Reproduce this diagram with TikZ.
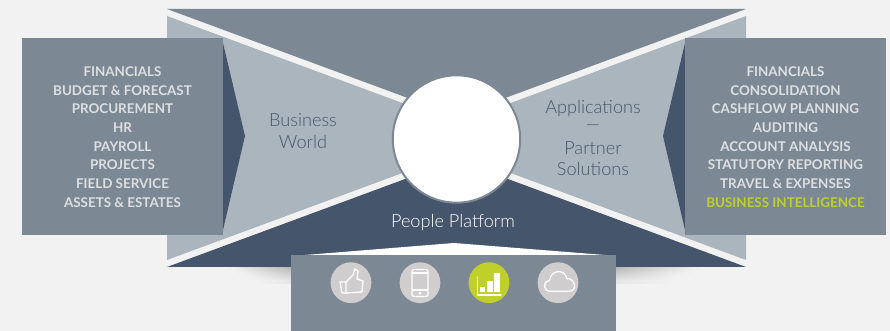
\documentclass[tikz,border=0pt]{standalone}
\usepackage{fontspec}
\setmainfont{Lato}
\newfontfamily\lightfont{Lato Light}
\usetikzlibrary{calc}
\definecolor{pg}{HTML}{F2F2F2}
\definecolor{sl}{HTML}{7C8894}
\definecolor{na}{HTML}{45556C}
\definecolor{li}{HTML}{ABB5BD}
\definecolor{tx}{HTML}{DDDFE1}
\definecolor{gr}{HTML}{BFD02A}
\definecolor{ci}{HTML}{CFCDCE}
\tikzset{
  listitem/.style={font=\fontsize{10.05}{11}\selectfont\bfseries, text=tx, anchor=center, inner sep=0},
  bigtext/.style={font=\lightfont\fontsize{13.6}{15}\selectfont, text=na, anchor=center, inner sep=0},
  iconline/.style={draw=white, line width=1pt, line join=round, line cap=round, fill=none},
}
\begin{document}
\begin{tikzpicture}[x=0.75pt, y=-0.75pt]
  \useasboundingbox (0,0) rectangle (890,331);
  \fill[pg] (0,0) rectangle (890,331);

  % shadow under the band
  \foreach \i in {0,...,7} {
    \pgfmathtruncatemacro{\dk}{26-3*\i}
    \shade[left color=pg, right color=black!\dk!pg] ({228+4*\i},{267+2*\i}) rectangle (292,{269.3+2*\i});
    \shade[left color=black!\dk!pg, right color=pg] (615,{267+2*\i}) rectangle ({700-4*\i},{269.3+2*\i});
  }

  % band
  \coordinate (c) at (456.5,139);
  \fill[sl] (167,9) -- (746,9) -- (456.5,116) -- cycle;
  \fill[li] (167,16) -- (456.5,123) -- (456.5,153) -- (167,260) -- cycle;
  \fill[li] (746,16) -- (456.5,123) -- (456.5,153) -- (746,260) -- cycle;
  \fill[na] (167,267) -- (746,267) -- (456.5,160) -- cycle;

  % left block
  \coordinate (a) at (22,38);
  \fill[na] ($(a)+(201,5)$) -- ($(a)+(223,98)$) -- ($(a)+(201,192)$) -- cycle;
  \fill[sl] (a) rectangle ++(201,197);
  \node[listitem] (l1) at ($(a)+(100.5,33.7)$) {FINANCIALS};
  \node[listitem] (l2) at ($(a)+(100.5,52.7)$) {BUDGET \& FORECAST};
  \node[listitem] (l3) at ($(a)+(100.5,70.7)$) {PROCUREMENT};
  \node[listitem] (l4) at ($(a)+(100.5,89.7)$) {HR};
  \node[listitem] (l5) at ($(a)+(100.5,108.7)$) {PAYROLL};
  \node[listitem] (l6) at ($(a)+(100.5,126.7)$) {PROJECTS};
  \node[listitem] (l7) at ($(a)+(100.5,145.7)$) {FIELD SERVICE};
  \node[listitem] (l8) at ($(a)+(100.5,164.7)$) {ASSETS \& ESTATES};

  % right block
  \coordinate (b) at (685,38);
  \fill[na] ($(b)+(0,5)$) -- ($(b)+(-22,98)$) -- ($(b)+(0,192)$) -- cycle;
  \fill[sl] (b) rectangle ++(201,197);
  \node[listitem] (r1) at ($(b)+(100.5,33.7)$) {FINANCIALS};
  \node[listitem] (r2) at ($(b)+(100.5,52.7)$) {CONSOLIDATION};
  \node[listitem] (r3) at ($(b)+(100.5,70.7)$) {CASHFLOW PLANNING};
  \node[listitem] (r4) at ($(b)+(100.5,89.7)$) {AUDITING};
  \node[listitem] (r5) at ($(b)+(100.5,108.7)$) {ACCOUNT ANALYSIS};
  \node[listitem] (r6) at ($(b)+(100.5,126.7)$) {STATUTORY REPORTING};
  \node[listitem] (r7) at ($(b)+(100.5,145.7)$) {TRAVEL \& EXPENSES};
  \node[listitem, text=gr] (r8) at ($(b)+(100.5,164.7)$) {BUSINESS INTELLIGENCE};

  % hub
  \filldraw[fill=white, draw=sl, line width=1.5pt] (c) circle (63.7);
  \node[bigtext] (bw1) at (303,120.5) {Business};
  \node[bigtext] (bw2) at (303,141.5) {World};
  \node[bigtext] (ap1) at (593,109) {Applications};
  \node[bigtext] (ap2) at (593,128) {—};
  \node[bigtext] (ap3) at (593,148.5) {Partner};
  \node[bigtext] (ap4) at (593,169) {Solutions};
  \node[bigtext, text=white] (pp) at (453,222.5) {People Platform};

  % platform panel
  \coordinate (p) at (291,255);
  \fill[white] (305,255) -- (454,243) -- (605,255) -- cycle;
  \fill[sl] (p) rectangle ++(325,76);

  \fill[ci] (351,282.7) circle (20.4);
  \fill[ci] (420,282.7) circle (20.4);
  \fill[gr] (489,282.7) circle (20.4);
  \fill[ci] (558,282.7) circle (20.4);

  % thumb
  \draw[iconline] (340,282) -- (346,282) -- (346,293) -- (342,293) -- cycle;
  \draw[iconline] (346,282) -- (353,275) -- (355,269) -- (358,271) -- (357,279) -- (363,281) -- (362,292) -- (346,293);
  % phone
  \draw[iconline, rounded corners=1.5pt] (412,269.5) rectangle (428,296.5);
  \draw[iconline] (412,273) -- (428,273) (412,290) -- (428,290);
  \draw[iconline] (420,293.3) circle (0.8);
  % bars
  \draw[iconline] (477.3,277) -- (477.3,295) -- (501,295);
  \fill[white] (480,287) rectangle (485,292.3);
  \fill[white] (486.7,281) rectangle (492.7,292.3);
  \fill[white] (494.3,273.3) rectangle (500,292.3);
  % cloud
  \draw[iconline] (551,291.3) .. controls (543,291.3) and (542,282) .. (549.5,280.5) .. controls (551,270) and (564,268) .. (567,278.5) .. controls (575,278) and (578,291.3) .. (569,291.3) -- cycle;
\end{tikzpicture}
\end{document}
